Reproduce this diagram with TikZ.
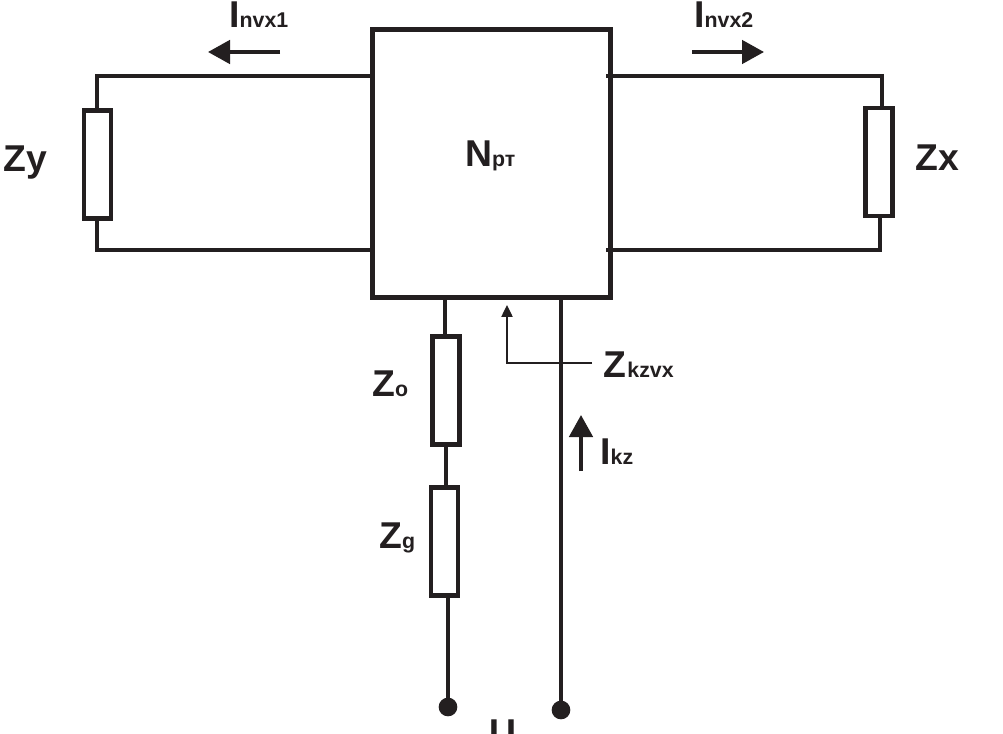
\documentclass[tikz,border=0pt]{standalone}
\usepackage{fontspec}
\setmainfont{Liberation Sans}
\usetikzlibrary{arrows.meta}
\definecolor{ink}{HTML}{231F20}
\newcommand{\bigt}{\fontsize{28}{30}\selectfont\bfseries}
\newcommand{\subt}{\fontsize{16}{18}\selectfont\bfseries}
\begin{document}
\begin{tikzpicture}[x=0.75pt,y=-0.75pt,
  wire/.style={draw=ink,line width=3.4pt,line cap=butt},
  mainbox/.style={draw=ink,line width=3.4pt,fill=white,minimum width=178.5pt,minimum height=201pt,inner sep=0pt},
  resistor/.style={draw=ink,line width=3.4pt,fill=white,minimum width=20pt,minimum height=81pt,inner sep=0pt},
  terminal/.style={circle,fill=ink,minimum size=14pt,inner sep=0pt},
  lab/.style={text=ink,inner sep=0pt,anchor=base west},
  curr/.style={draw=ink,line width=2.8pt,-{Triangle[length=16.5pt,width=17.5pt]}},
  probe/.style={draw=ink,line width=1pt,-{Triangle[length=9pt,width=8.5pt]}}]
\useasboundingbox[clip] (0,0) rectangle (1003,734);
\fill[white] (0,0) rectangle (1003,734);
% coordinates
\coordinate (tl) at (97,76);
\coordinate (bl) at (97,250);
\coordinate (br) at (880,250);
\coordinate (ml) at (373,76);
\coordinate (mlb) at (373,250);
\coordinate (mr) at (606,76);
\coordinate (mrb) at (606,250);
\coordinate (s1) at (445,297);
\coordinate (s2) at (561,297);
\coordinate (pe) at (592,363);
\coordinate (pc) at (507,363);
\coordinate (pt) at (507,305);
\coordinate (a1s) at (280,52);
\coordinate (a1e) at (208,52);
\coordinate (a2s) at (692,52);
\coordinate (a2e) at (764,52);
\coordinate (a3s) at (581,471);
\coordinate (a3e) at (581,415);
% wires
\draw[wire,line join=miter] (ml) -- (tl) -- (bl) -- (mlb);
\node[mainbox] (np) at (491.5,163.5) {};
\draw[wire] (mr) -- (884,76);
\draw[wire] (882,74) -- (882,108);
\draw[wire] (880,216) -- (880,252.2);
\draw[wire] (mrb) -- (br);
\node[terminal] (t1) at (448,707) {};
\node[terminal] (t2) at (561,710) {};
\node[resistor] (zo) at (446,390.5) {};
\node[resistor] (zg) at (444.5,541.5) {};
\draw[wire] (s1) -- (zo.north -| s1);
\draw[wire] (zo.south) -- (zo.south |- zg.north);
\draw[wire] (448,596) -- (t1.center);
\draw[wire] (s2) -- (t2.center);
\node[resistor] (zy) at (97.5,164.5) {};
\node[resistor] (zx) at (879,162) {};
% arrows
\draw[curr] (a1s) -- (a1e);
\draw[curr] (a2s) -- (a2e);
\draw[curr] (a3s) -- (a3e);
\draw[probe] (pe) -- (pc) -- (pt);
% labels
\node[lab] (linv1) at (229,28) {\bigt I\subt nvx1};
\node[lab] (linv2) at (694,28) {\bigt I\subt nvx2};
\node[lab] (lnp) at (465,167) {\bigt N\subt рт};
\node[lab] (lzy) at (3,172) {\bigt Zy};
\node[lab] (lzx) at (915,171) {\bigt Zx};
\node[lab] (lzk) at (603,377) {\bigt Z\kern1pt\subt kzvx};
\node[lab] (lik) at (600,464) {\bigt I\subt kz};
\node[lab] (lzo) at (372,396) {\bigt Z\subt o};
\node[lab] (lzg) at (379,548) {\bigt Z\subt g};
\node[lab] (lu) at (489,745) {\bigt U};
\end{tikzpicture}
\end{document}
